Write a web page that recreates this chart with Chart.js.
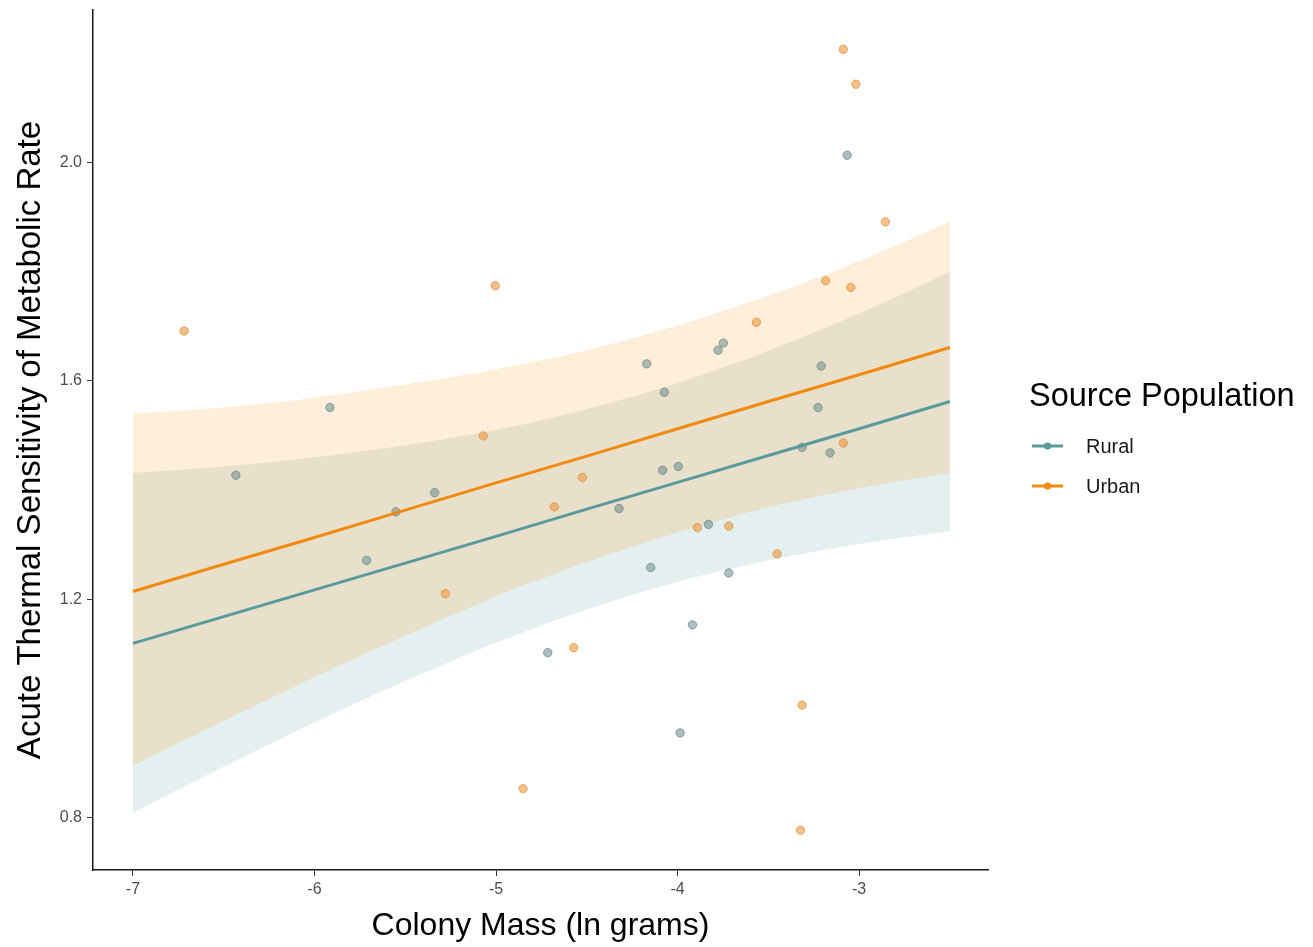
<!DOCTYPE html>
<html>
<head>
<meta charset="utf-8">
<script src="https://cdn.jsdelivr.net/npm/chart.js@4.4.1/dist/chart.umd.min.js"></script>
<style>
  html, body { margin: 0; padding: 0; background: #ffffff; }
  #wrap { width: 1313px; height: 947px; }
</style>
</head>
<body>
<div id="wrap"><canvas id="chart" width="1313" height="947"></canvas></div>
<script>
// Colony mass (ln g) and acute thermal sensitivity, by source population
const ruralMass = [-5.915, -6.433, -5.338, -5.551, -5.713, -4.170, -4.073, -3.777, -3.748, -3.209, -3.226, -3.066,
                   -3.314, -3.160, -4.082, -3.996, -4.322, -3.830, -4.148, -3.718, -3.918, -4.715, -3.986];
const ruralSens = [1.551, 1.427, 1.395, 1.360, 1.271, 1.631, 1.579, 1.656, 1.669, 1.627, 1.551, 2.013,
                   1.478, 1.468, 1.436, 1.443, 1.366, 1.337, 1.258, 1.248, 1.153, 1.102, 0.955];

const urbanMass = [-6.718, -5.004, -5.070, -3.087, -3.018, -2.855, -3.184, -3.046, -3.566, -3.087,
                   -5.279, -4.851, -4.524, -4.679, -3.891, -3.718, -3.452, -4.572, -3.314, -3.323];
const urbanSens = [1.691, 1.774, 1.499, 2.207, 2.143, 1.891, 1.783, 1.771, 1.707, 1.486,
                   1.210, 0.853, 1.423, 1.369, 1.331, 1.334, 1.283, 1.111, 1.006, 0.777];

// Fitted lines with 95% confidence ribbons
const fitMass    = [-7, -6.5, -6, -5.5, -5, -4.5, -4, -3.5, -3, -2.5];
const ruralFit   = [1.119, 1.168, 1.217, 1.266, 1.315, 1.365, 1.414, 1.463, 1.512, 1.562];
const ruralUpper = [1.431, 1.443, 1.460, 1.482, 1.510, 1.548, 1.596, 1.655, 1.723, 1.799];
const ruralLower = [0.809, 0.893, 0.974, 1.050, 1.120, 1.181, 1.232, 1.271, 1.301, 1.325];
const urbanFit   = [1.214, 1.264, 1.313, 1.363, 1.413, 1.462, 1.512, 1.562, 1.611, 1.661];
const urbanUpper = [1.540, 1.551, 1.569, 1.593, 1.621, 1.656, 1.701, 1.756, 1.819, 1.891];
const urbanLower = [0.895, 0.977, 1.057, 1.133, 1.205, 1.268, 1.322, 1.368, 1.403, 1.431];

const xTicks = [-7, -6, -5, -4, -3];
const yTicks = [0.8, 1.2, 1.6, 2.0];

const groups = ['Rural', 'Urban'];
const lineColors = { Rural: '#5a9a9a', Urban: '#f08a12' };

const FONT = "'Liberation Sans', Arial, sans-serif";

const toXY = (xs, ys) => xs.map((x, i) => ({ x: x, y: ys[i] }));

const ribbon = (label, data, fillTarget, color, order) => ({
  label: label, data: data, showLine: true, pointRadius: 0, borderWidth: 0,
  borderColor: 'rgba(0,0,0,0)', backgroundColor: color, fill: fillTarget,
  tension: 0.3, order: order
});

const datasets = [
  ribbon('Rural upper', toXY(fitMass, ruralUpper), '+1', 'rgba(95,158,160,0.17)', 20),
  ribbon('Rural lower', toXY(fitMass, ruralLower), false, 'rgba(0,0,0,0)', 20),
  ribbon('Urban upper', toXY(fitMass, urbanUpper), '+1', 'rgba(255,140,0,0.15)', 19),
  ribbon('Urban lower', toXY(fitMass, urbanLower), false, 'rgba(0,0,0,0)', 19),
  {
    label: 'Rural points', data: toXY(ruralMass, ruralSens), showLine: false,
    pointRadius: 4.2, pointBackgroundColor: 'rgba(105,140,140,0.55)',
    pointBorderColor: 'rgba(85,120,120,0.6)', pointBorderWidth: 1, order: 10
  },
  {
    label: 'Urban points', data: toXY(urbanMass, urbanSens), showLine: false,
    pointRadius: 4.2, pointBackgroundColor: 'rgba(236,150,60,0.6)',
    pointBorderColor: 'rgba(220,135,45,0.65)', pointBorderWidth: 1, order: 9
  },
  {
    label: 'Rural', data: toXY(fitMass, ruralFit), showLine: true, pointRadius: 0,
    borderColor: lineColors.Rural, borderWidth: 3, fill: false, order: 2
  },
  {
    label: 'Urban', data: toXY(fitMass, urbanFit), showLine: true, pointRadius: 0,
    borderColor: lineColors.Urban, borderWidth: 3, fill: false, order: 1
  }
];

// Legend drawn to the right of the panel: title plus line-and-dot keys
const sideLegend = {
  id: 'sideLegend',
  afterDraw(chart) {
    const ctx = chart.ctx;
    const x0 = 1029;
    ctx.save();
    ctx.fillStyle = '#000';
    ctx.font = '32.5px ' + FONT;
    ctx.textBaseline = 'middle';
    ctx.textAlign = 'left';
    ctx.fillText('Source Population', x0, 397);
    ctx.font = '20px ' + FONT;
    groups.forEach((g, i) => {
      const y = 446 + i * 40;
      ctx.strokeStyle = lineColors[g];
      ctx.lineWidth = 3;
      ctx.beginPath();
      ctx.moveTo(x0 + 3, y);
      ctx.lineTo(x0 + 34, y);
      ctx.stroke();
      ctx.fillStyle = lineColors[g];
      ctx.beginPath();
      ctx.arc(x0 + 18.5, y, 3.6, 0, Math.PI * 2);
      ctx.fill();
      ctx.fillStyle = '#1a1a1a';
      ctx.fillText(g, x0 + 57, y + 1);
    });
    ctx.restore();
  }
};

new Chart(document.getElementById('chart'), {
  type: 'scatter',
  data: { datasets: datasets },
  options: {
    responsive: false,
    animation: false,
    layout: { padding: { top: 10, right: 325, left: 0, bottom: 0 } },
    plugins: {
      legend: { display: false },
      tooltip: { enabled: false },
      filler: { propagate: false }
    },
    scales: {
      x: {
        type: 'linear', min: -7.22, max: -2.29,
        afterBuildTicks: s => { s.ticks = xTicks.map(v => ({ value: v })); },
        afterFit: s => { s.height = 77; s.paddingLeft = 0; s.paddingRight = 0; },
        ticks: { color: '#4d4d4d', font: { size: 16, family: FONT }, padding: 4,
                 autoSkip: false, maxRotation: 0, callback: v => String(v) },
        grid: { display: true, drawOnChartArea: false, drawTicks: true, tickLength: 6,
                tickColor: '#333333', tickWidth: 1 },
        border: { display: true, color: '#1a1a1a', width: 1.5 },
        title: { display: true, text: 'Colony Mass (ln grams)', color: '#000',
                 font: { size: 32, family: FONT }, padding: { top: 0, bottom: 2 } }
      },
      y: {
        type: 'linear', min: 0.704, max: 2.279,
        afterBuildTicks: s => { s.ticks = yTicks.map(v => ({ value: v })); },
        afterFit: s => { s.width = 93; s.paddingTop = 0; s.paddingBottom = 0; },
        ticks: { color: '#4d4d4d', font: { size: 16, family: FONT }, padding: 5,
                 autoSkip: false, callback: v => Number(v).toFixed(1) },
        grid: { display: true, drawOnChartArea: false, drawTicks: true, tickLength: 6,
                tickColor: '#333333', tickWidth: 1 },
        border: { display: true, color: '#1a1a1a', width: 1.5 },
        title: { display: true, text: 'Acute Thermal Sensitivity of Metabolic Rate', color: '#000',
                 font: { size: 33, family: FONT }, padding: { top: 11, bottom: 0 } }
      }
    }
  },
  plugins: [sideLegend]
});
</script>
</body>
</html>
